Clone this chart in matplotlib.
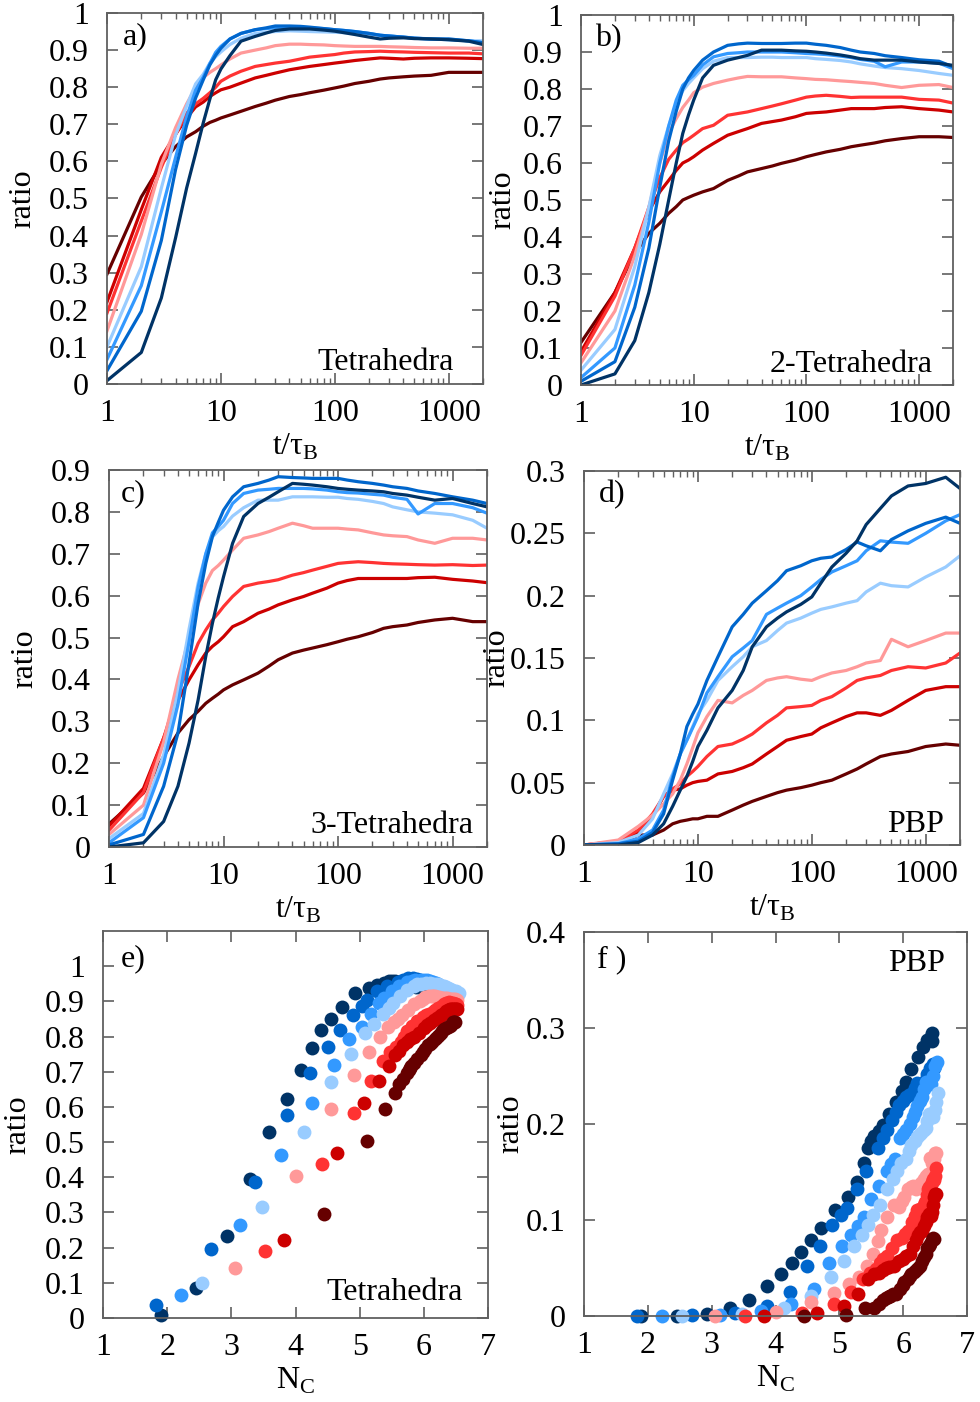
import matplotlib
matplotlib.use('Agg')
import matplotlib.pyplot as plt
from matplotlib.ticker import FixedLocator, LogLocator, NullFormatter, FuncFormatter

plt.rcParams['font.family'] = ['Liberation Serif', 'DejaVu Serif']
plt.rcParams['mathtext.fontset'] = 'custom'
plt.rcParams['mathtext.rm'] = 'Liberation Serif'

# ---------------- data ----------------
t = [1, 2, 3, 4, 5, 6, 7, 8, 9, 10, 12, 15, 20, 25, 30, 40, 50, 60, 80, 100,
     120, 150, 200, 250, 300, 400, 500, 700, 1000, 1500, 2000]

series_names = ['darkred', 'red', 'brightred', 'pink', 'lightblue', 'midblue', 'blue', 'navy']
colors = ['#660000', '#cc0000', '#ff3333', '#ff9999', '#99ccff', '#3399ff', '#0066cc', '#003366']

# Panel a: Tetrahedra
a_darkred = [0.296, 0.504, 0.593, 0.64, 0.666, 0.68, 0.695, 0.705, 0.711, 0.717, 0.725, 0.735, 0.748, 0.757, 0.765, 0.775, 0.78, 0.785, 0.792, 0.798, 0.803, 0.81, 0.816, 0.822, 0.825, 0.828, 0.83, 0.832, 0.84, 0.84, 0.84]
a_red = [0.221, 0.47, 0.611, 0.673, 0.717, 0.747, 0.76, 0.775, 0.785, 0.793, 0.80, 0.811, 0.825, 0.832, 0.838, 0.847, 0.852, 0.856, 0.861, 0.865, 0.868, 0.872, 0.876, 0.879, 0.878, 0.876, 0.878, 0.879, 0.879, 0.878, 0.877]
a_brightred = [0.191, 0.439, 0.584, 0.673, 0.73, 0.755, 0.77, 0.785, 0.80, 0.816, 0.83, 0.843, 0.856, 0.861, 0.865, 0.87, 0.876, 0.881, 0.885, 0.888, 0.892, 0.895, 0.896, 0.897, 0.896, 0.895, 0.894, 0.893, 0.892, 0.892, 0.89]
a_pink = [0.143, 0.403, 0.593, 0.691, 0.755, 0.799, 0.826, 0.84, 0.85, 0.86, 0.876, 0.892, 0.9, 0.906, 0.912, 0.916, 0.916, 0.915, 0.914, 0.912, 0.911, 0.91, 0.91, 0.91, 0.909, 0.908, 0.907, 0.906, 0.906, 0.905, 0.905]
a_lightblue = [0.10, 0.316, 0.528, 0.671, 0.749, 0.809, 0.835, 0.865, 0.882, 0.895, 0.915, 0.932, 0.945, 0.948, 0.95, 0.952, 0.951, 0.95, 0.949, 0.948, 0.947, 0.945, 0.943, 0.94, 0.938, 0.935, 0.933, 0.93, 0.93, 0.925, 0.925]
a_midblue = [0.066, 0.265, 0.464, 0.611, 0.72, 0.792, 0.827, 0.864, 0.894, 0.91, 0.93, 0.945, 0.955, 0.958, 0.96, 0.962, 0.961, 0.96, 0.958, 0.955, 0.953, 0.95, 0.945, 0.94, 0.938, 0.935, 0.932, 0.93, 0.928, 0.925, 0.92]
a_blue = [0.036, 0.196, 0.387, 0.578, 0.697, 0.771, 0.82, 0.86, 0.886, 0.905, 0.93, 0.945, 0.955, 0.96, 0.965, 0.965, 0.964, 0.962, 0.958, 0.955, 0.953, 0.95, 0.945, 0.94, 0.938, 0.935, 0.932, 0.93, 0.93, 0.925, 0.92]
a_navy = [0.009, 0.085, 0.232, 0.394, 0.528, 0.622, 0.704, 0.768, 0.82, 0.849, 0.885, 0.924, 0.937, 0.946, 0.953, 0.957, 0.957, 0.957, 0.954, 0.951, 0.947, 0.942, 0.935, 0.93, 0.932, 0.933, 0.931, 0.93, 0.928, 0.924, 0.915]

# Panel b: 2-Tetrahedra
b_darkred = [0.115, 0.25, 0.355, 0.41, 0.437, 0.464, 0.482, 0.5, 0.507, 0.513, 0.522, 0.531, 0.553, 0.565, 0.576, 0.585, 0.592, 0.599, 0.608, 0.617, 0.623, 0.63, 0.637, 0.644, 0.648, 0.654, 0.66, 0.666, 0.671, 0.671, 0.669]
b_red = [0.09, 0.25, 0.37, 0.47, 0.522, 0.553, 0.58, 0.6, 0.608, 0.617, 0.635, 0.653, 0.675, 0.685, 0.693, 0.707, 0.712, 0.716, 0.725, 0.734, 0.736, 0.738, 0.743, 0.747, 0.747, 0.747, 0.75, 0.752, 0.747, 0.743, 0.738]
b_brightred = [0.08, 0.24, 0.37, 0.48, 0.56, 0.61, 0.635, 0.655, 0.665, 0.675, 0.693, 0.702, 0.729, 0.734, 0.738, 0.747, 0.754, 0.76, 0.77, 0.778, 0.781, 0.783, 0.78, 0.777, 0.778, 0.778, 0.778, 0.778, 0.772, 0.77, 0.762]
b_pink = [0.06, 0.2, 0.35, 0.48, 0.6, 0.68, 0.72, 0.75, 0.77, 0.79, 0.805, 0.815, 0.824, 0.83, 0.834, 0.833, 0.833, 0.833, 0.83, 0.828, 0.826, 0.825, 0.822, 0.82, 0.818, 0.815, 0.81, 0.804, 0.81, 0.812, 0.804]
b_lightblue = [0.04, 0.15, 0.32, 0.48, 0.62, 0.7, 0.76, 0.795, 0.815, 0.83, 0.855, 0.875, 0.885, 0.885, 0.885, 0.886, 0.886, 0.885, 0.885, 0.885, 0.882, 0.88, 0.877, 0.873, 0.868, 0.862, 0.858, 0.855, 0.85, 0.842, 0.837]
b_midblue = [0.02, 0.10, 0.27, 0.44, 0.6, 0.7, 0.77, 0.81, 0.825, 0.837, 0.865, 0.887, 0.896, 0.898, 0.9, 0.9, 0.9, 0.9, 0.898, 0.896, 0.895, 0.893, 0.889, 0.885, 0.88, 0.875, 0.86, 0.873, 0.873, 0.87, 0.855]
b_blue = [0.01, 0.063, 0.21, 0.37, 0.535, 0.66, 0.74, 0.8, 0.83, 0.85, 0.878, 0.9, 0.918, 0.922, 0.924, 0.923, 0.923, 0.923, 0.924, 0.924, 0.921, 0.918, 0.912, 0.905, 0.9, 0.896, 0.89, 0.885, 0.879, 0.875, 0.86]
b_navy = [0.0, 0.03, 0.12, 0.25, 0.38, 0.5, 0.6, 0.68, 0.73, 0.77, 0.83, 0.864, 0.878, 0.885, 0.891, 0.905, 0.905, 0.905, 0.903, 0.902, 0.9, 0.897, 0.892, 0.887, 0.882, 0.878, 0.878, 0.878, 0.873, 0.869, 0.864]

# Panel c: 3-Tetrahedra
c_darkred = [0.055, 0.129, 0.216, 0.272, 0.304, 0.324, 0.343, 0.355, 0.365, 0.375, 0.387, 0.399, 0.415, 0.432, 0.447, 0.463, 0.47, 0.475, 0.483, 0.49, 0.496, 0.502, 0.512, 0.522, 0.526, 0.53, 0.536, 0.542, 0.546, 0.538, 0.538]
c_red = [0.05, 0.14, 0.26, 0.35, 0.399, 0.435, 0.463, 0.479, 0.49, 0.502, 0.526, 0.538, 0.558, 0.568, 0.578, 0.59, 0.598, 0.606, 0.618, 0.63, 0.636, 0.641, 0.641, 0.641, 0.641, 0.641, 0.643, 0.644, 0.639, 0.635, 0.631]
c_brightred = [0.04, 0.13, 0.26, 0.37, 0.431, 0.486, 0.518, 0.542, 0.558, 0.574, 0.598, 0.622, 0.63, 0.634, 0.638, 0.649, 0.655, 0.661, 0.67, 0.677, 0.679, 0.681, 0.679, 0.677, 0.676, 0.675, 0.674, 0.673, 0.674, 0.672, 0.673]
c_pink = [0.03, 0.10, 0.25, 0.40, 0.5, 0.58, 0.63, 0.66, 0.672, 0.685, 0.709, 0.737, 0.745, 0.753, 0.761, 0.773, 0.767, 0.761, 0.761, 0.761, 0.759, 0.757, 0.75, 0.745, 0.743, 0.741, 0.733, 0.725, 0.737, 0.737, 0.733]
c_lightblue = [0.02, 0.08, 0.22, 0.37, 0.52, 0.63, 0.7, 0.74, 0.755, 0.765, 0.79, 0.81, 0.828, 0.828, 0.828, 0.836, 0.836, 0.836, 0.835, 0.835, 0.832, 0.83, 0.825, 0.82, 0.812, 0.805, 0.8, 0.797, 0.793, 0.78, 0.761]
c_midblue = [0.01, 0.07, 0.2, 0.34, 0.49, 0.62, 0.7, 0.75, 0.765, 0.78, 0.82, 0.844, 0.852, 0.854, 0.856, 0.856, 0.856, 0.855, 0.852, 0.848, 0.846, 0.845, 0.842, 0.84, 0.835, 0.83, 0.795, 0.82, 0.82, 0.81, 0.797]
c_blue = [0.005, 0.03, 0.145, 0.272, 0.439, 0.582, 0.677, 0.741, 0.775, 0.804, 0.836, 0.86, 0.868, 0.876, 0.884, 0.882, 0.881, 0.88, 0.88, 0.88, 0.876, 0.872, 0.868, 0.864, 0.86, 0.856, 0.85, 0.844, 0.836, 0.828, 0.82]
c_navy = [0.0, 0.01, 0.061, 0.145, 0.248, 0.351, 0.455, 0.534, 0.595, 0.645, 0.725, 0.789, 0.82, 0.835, 0.848, 0.868, 0.866, 0.864, 0.86, 0.856, 0.854, 0.852, 0.85, 0.848, 0.844, 0.84, 0.835, 0.828, 0.832, 0.82, 0.812]

# Panel d: PBP
d_darkred = [0.0, 0.001, 0.008, 0.008, 0.012, 0.017, 0.019, 0.02, 0.021, 0.021, 0.023, 0.023, 0.028, 0.032, 0.035, 0.039, 0.042, 0.044, 0.046, 0.048, 0.05, 0.052, 0.057, 0.061, 0.065, 0.071, 0.073, 0.075, 0.079, 0.081, 0.08]
d_red = [0.0, 0.003, 0.01, 0.023, 0.039, 0.044, 0.045, 0.048, 0.05, 0.051, 0.052, 0.057, 0.059, 0.062, 0.065, 0.073, 0.079, 0.084, 0.087, 0.089, 0.094, 0.098, 0.103, 0.106, 0.106, 0.104, 0.108, 0.116, 0.124, 0.127, 0.127]
d_brightred = [0.0, 0.003, 0.012, 0.025, 0.039, 0.045, 0.049, 0.055, 0.059, 0.063, 0.071, 0.079, 0.081, 0.085, 0.089, 0.098, 0.104, 0.11, 0.111, 0.112, 0.116, 0.119, 0.126, 0.132, 0.134, 0.136, 0.14, 0.143, 0.142, 0.146, 0.154]
d_pink = [0.0, 0.004, 0.015, 0.024, 0.033, 0.041, 0.052, 0.065, 0.078, 0.09, 0.103, 0.116, 0.114, 0.12, 0.124, 0.132, 0.134, 0.135, 0.133, 0.132, 0.135, 0.138, 0.14, 0.143, 0.146, 0.148, 0.165, 0.159, 0.164, 0.17, 0.17]
d_lightblue = [0.0, 0.002, 0.008, 0.021, 0.041, 0.057, 0.073, 0.084, 0.095, 0.105, 0.116, 0.132, 0.143, 0.151, 0.159, 0.164, 0.172, 0.178, 0.182, 0.186, 0.189, 0.191, 0.194, 0.196, 0.203, 0.21, 0.208, 0.207, 0.215, 0.223, 0.232]
d_midblue = [0.0, 0.001, 0.005, 0.012, 0.028, 0.055, 0.073, 0.084, 0.094, 0.103, 0.122, 0.135, 0.151, 0.158, 0.164, 0.185, 0.19, 0.194, 0.2, 0.207, 0.213, 0.219, 0.224, 0.228, 0.236, 0.244, 0.243, 0.242, 0.25, 0.26, 0.265]
d_blue = [0.0, 0.001, 0.003, 0.01, 0.025, 0.052, 0.073, 0.095, 0.105, 0.113, 0.132, 0.151, 0.175, 0.185, 0.194, 0.204, 0.212, 0.22, 0.224, 0.228, 0.23, 0.231, 0.237, 0.243, 0.24, 0.236, 0.245, 0.252, 0.258, 0.263, 0.258]
d_navy = [0.0, 0.0, 0.002, 0.008, 0.017, 0.031, 0.044, 0.055, 0.067, 0.079, 0.092, 0.11, 0.124, 0.14, 0.159, 0.175, 0.182, 0.187, 0.193, 0.199, 0.21, 0.223, 0.234, 0.244, 0.257, 0.27, 0.28, 0.288, 0.29, 0.295, 0.286]

# Mean coordination number N_C at the same times (shared by panels e and f)
nc_darkred = [4.44, 5.11, 5.4, 5.55, 5.62, 5.68, 5.73, 5.77, 5.79, 5.8, 5.84, 5.89, 5.95, 5.99, 6.02, 6.07, 6.1, 6.13, 6.17, 6.2, 6.23, 6.26, 6.29, 6.32, 6.35, 6.37, 6.4, 6.42, 6.45, 6.47, 6.49]
nc_red = [3.82, 4.65, 5.07, 5.3, 5.45, 5.55, 5.62, 5.68, 5.73, 5.78, 5.85, 5.93, 6.0, 6.05, 6.1, 6.16, 6.2, 6.23, 6.27, 6.3, 6.33, 6.35, 6.38, 6.4, 6.42, 6.43, 6.45, 6.46, 6.48, 6.5, 6.52]
nc_brightred = [3.53, 4.42, 4.91, 5.18, 5.37, 5.48, 5.57, 5.64, 5.69, 5.74, 5.82, 5.9, 5.98, 6.03, 6.08, 6.14, 6.18, 6.22, 6.26, 6.29, 6.32, 6.34, 6.37, 6.39, 6.41, 6.43, 6.45, 6.46, 6.48, 6.5, 6.52]
nc_pink = [3.06, 4.01, 4.56, 4.91, 5.15, 5.31, 5.44, 5.53, 5.6, 5.66, 5.75, 5.85, 5.94, 5.98, 6.02, 6.08, 6.12, 6.15, 6.18, 6.2, 6.23, 6.26, 6.3, 6.33, 6.36, 6.39, 6.42, 6.45, 6.48, 6.5, 6.52]
nc_lightblue = [2.54, 3.48, 4.13, 4.56, 4.87, 5.08, 5.23, 5.36, 5.45, 5.52, 5.63, 5.74, 5.84, 5.9, 5.96, 6.04, 6.09, 6.13, 6.18, 6.22, 6.25, 6.28, 6.32, 6.35, 6.38, 6.41, 6.44, 6.46, 6.5, 6.52, 6.55]
nc_midblue = [2.22, 3.13, 3.78, 4.25, 4.6, 4.84, 5.04, 5.18, 5.3, 5.38, 5.5, 5.62, 5.74, 5.81, 5.87, 5.95, 6.0, 6.05, 6.1, 6.15, 6.19, 6.22, 6.26, 6.3, 6.33, 6.36, 6.4, 6.43, 6.47, 6.5, 6.53]
nc_blue = [1.83, 2.69, 3.37, 3.87, 4.22, 4.5, 4.7, 4.89, 5.03, 5.12, 5.27, 5.42, 5.6, 5.68, 5.75, 5.83, 5.89, 5.94, 6.0, 6.05, 6.09, 6.13, 6.18, 6.22, 6.26, 6.3, 6.34, 6.38, 6.42, 6.46, 6.48]
nc_navy = [1.9, 2.45, 2.93, 3.29, 3.59, 3.86, 4.08, 4.26, 4.4, 4.55, 4.72, 4.93, 5.14, 5.27, 5.38, 5.45, 5.5, 5.55, 5.62, 5.68, 5.78, 5.88, 5.98, 6.05, 6.13, 6.24, 6.31, 6.38, 6.42, 6.45, 6.45]

panel_a = [a_darkred, a_red, a_brightred, a_pink, a_lightblue, a_midblue, a_blue, a_navy]
panel_b = [b_darkred, b_red, b_brightred, b_pink, b_lightblue, b_midblue, b_blue, b_navy]
panel_c = [c_darkred, c_red, c_brightred, c_pink, c_lightblue, c_midblue, c_blue, c_navy]
panel_d = [d_darkred, d_red, d_brightred, d_pink, d_lightblue, d_midblue, d_blue, d_navy]
nc_all = [nc_darkred, nc_red, nc_brightred, nc_pink, nc_lightblue, nc_midblue, nc_blue, nc_navy]

for pname, group in [('a', panel_a), ('b', panel_b), ('c', panel_c), ('d', panel_d), ('nc', nc_all)]:
    for sname, arr in zip(series_names, group):
        if len(arr) != len(t):
            raise ValueError('length mismatch %s_%s: %d' % (pname, sname, len(arr)))

# ---------------- figure ----------------
W, H = 980, 1402
fig = plt.figure(figsize=(W / 100, H / 100), dpi=100)
FS = 23
FRAME = '#606060'


def add_ax(l, tp, r, b):
    return fig.add_axes([l / W, 1 - b / H, (r - l) / W, (b - tp) / H])


def fmt(v, pos):
    return '%g' % v


def style(ax, box, ylim, yticks, ylabel_px, log=True, xlabel='t/τ$_\\mathregular{B}$'):
    l, tp, r, b = box
    for s in ax.spines.values():
        s.set_color(FRAME)
        s.set_linewidth(1.3)
    ax.tick_params(which='both', direction='in', top=True, right=True, color=FRAME,
                   labelsize=FS)
    ax.tick_params(which='major', length=8, width=1.2)
    ax.tick_params(which='minor', length=4, width=1.0)
    ax.tick_params(axis='y', pad=13)
    ax.tick_params(axis='x', pad=11)
    if log:
        ax.set_xscale('log')
        ax.set_xlim(1, 2000)
        ax.xaxis.set_major_locator(FixedLocator([1, 10, 100, 1000]))
        ax.xaxis.set_minor_locator(LogLocator(base=10, subs=range(2, 10), numticks=20))
        ax.xaxis.set_minor_formatter(NullFormatter())
    else:
        ax.set_xlim(1, 7)
        ax.xaxis.set_major_locator(FixedLocator([1, 2, 3, 4, 5, 6, 7]))
    ax.xaxis.set_major_formatter(FuncFormatter(fmt))
    ax.set_ylim(*ylim)
    ax.yaxis.set_major_locator(FixedLocator(yticks))
    ax.yaxis.set_major_formatter(FuncFormatter(fmt))
    w, h = r - l, b - tp
    ax.text((ylabel_px - l) / w, 0.5, 'ratio', rotation=90, ha='center', va='center',
            fontsize=FS, transform=ax.transAxes)
    ax.text(0.5, -71 / h, xlabel, ha='center', va='baseline', fontsize=FS,
            transform=ax.transAxes)


def lines_panel(ax, data):
    for vals, c in zip(data, colors):
        ax.plot(t, vals, color=c, lw=2.3, solid_joinstyle='round')


def scatter_panel(ax, ydata):
    for nc, vals, c in zip(nc_all[::-1], ydata[::-1], colors[::-1]):
        ax.plot(nc, vals, 'o', color=c, ms=10, mec='none', ls='none', clip_on=False)


ticks01 = [round(0.1 * i, 1) for i in range(11)]

box_a = (107, 13, 483, 384)
ax = add_ax(*box_a)
lines_panel(ax, panel_a)
style(ax, box_a, (0, 1), ticks01, 23)
ax.text(0.043, 0.975, 'a)', ha='left', va='top', fontsize=FS, transform=ax.transAxes)
ax.text(0.923, 0.038, 'Tetrahedra', ha='right', va='baseline', fontsize=FS, transform=ax.transAxes)

box_b = (581, 15, 953, 385)
ax = add_ax(*box_b)
lines_panel(ax, panel_b)
style(ax, box_b, (0, 1), ticks01, 503)
ax.text(0.038, 0.975, 'b)', ha='left', va='top', fontsize=FS, transform=ax.transAxes)
ax.text(0.944, 0.035, '2-Tetrahedra', ha='right', va='baseline', fontsize=FS, transform=ax.transAxes)

box_c = (109, 470, 487, 847)
ax = add_ax(*box_c)
lines_panel(ax, panel_c)
style(ax, box_c, (0, 0.9), ticks01[:10], 25)
ax.text(0.03, 0.975, 'c)', ha='left', va='top', fontsize=FS, transform=ax.transAxes)
ax.text(0.963, 0.037, '3-Tetrahedra', ha='right', va='baseline', fontsize=FS, transform=ax.transAxes)

box_d = (584, 471, 960, 845)
ax = add_ax(*box_d)
lines_panel(ax, panel_d)
style(ax, box_d, (0, 0.3), [0, 0.05, 0.1, 0.15, 0.2, 0.25, 0.3], 497)
ax.text(0.04, 0.975, 'd)', ha='left', va='top', fontsize=FS, transform=ax.transAxes)
ax.text(0.957, 0.035, 'PBP', ha='right', va='baseline', fontsize=FS, transform=ax.transAxes)

box_e = (103, 931, 488, 1318)
ax = add_ax(*box_e)
scatter_panel(ax, panel_a)
style(ax, box_e, (0, 1.1), ticks01, 18, log=False, xlabel='N$_\\mathregular{C}$')
ax.text(0.047, 0.965, 'e)', ha='left', va='top', fontsize=FS, transform=ax.transAxes)
ax.text(0.935, 0.047, 'Tetrahedra', ha='right', va='baseline', fontsize=FS, transform=ax.transAxes)

box_f = (584, 932, 967, 1316)
ax = add_ax(*box_f)
scatter_panel(ax, panel_d)
style(ax, box_f, (0, 0.4), [0, 0.1, 0.2, 0.3, 0.4], 511, log=False, xlabel='N$_\\mathregular{C}$')
ax.text(0.035, 0.965, 'f )', ha='left', va='top', fontsize=FS, transform=ax.transAxes)
ax.text(0.943, 0.898, 'PBP', ha='right', va='baseline', fontsize=FS, transform=ax.transAxes)

fig.savefig('out.png', dpi=100)
